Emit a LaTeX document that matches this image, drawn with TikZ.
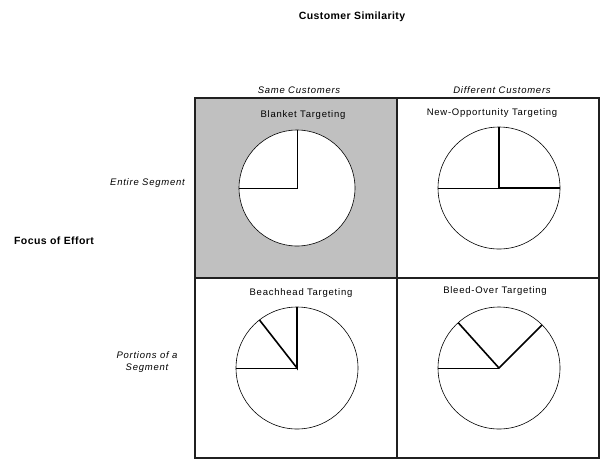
\documentclass[tikz,border=0pt]{standalone}
\usepackage{fontspec}
\setmainfont{Liberation Sans}
\newfontfamily\policeLarge[LetterSpace=8]{Liberation Sans}
\newfontfamily\policeTitre[LetterSpace=4]{Liberation Sans}
\usetikzlibrary{positioning}
\definecolor{grisCase}{HTML}{C0C0C0}
\definecolor{traitCase}{HTML}{202020}
\tikzset{
  %% ── Cases de la matrice ──────────────────────────────────────────────
  caseMatrice/.style = {draw=traitCase, line width=1.1pt, minimum width=202pt,
                        minimum height=180pt, inner sep=0pt, outer sep=0pt},
  caseGrise/.style   = {caseMatrice, fill=grisCase},
  %%
  %% ── Camemberts ───────────────────────────────────────────────────────
  camembert/.style   = {circle, draw=black, line width=0.6pt, fill=white,
                        inner sep=0pt, outer sep=0pt, minimum size=122pt},
  rayon/.style       = {draw=black, line width=0.6pt},
  rayonFort/.style   = {draw=black, line width=1.6pt},
  %%
  %% ── Textes ───────────────────────────────────────────────────────────
  titreCase/.style   = {font=\policeLarge\fontsize{9.5}{11}\selectfont, inner sep=1pt},
  titreAxe/.style    = {font=\policeTitre\fontsize{10.5}{12}\selectfont\bfseries, inner sep=1pt},
  etiquetteAxe/.style= {font=\policeLarge\fontsize{9.5}{12}\selectfont\itshape, inner sep=1pt,
                        align=center},
}
\begin{document}
\begin{tikzpicture}[x=1pt, y=-1pt]
\useasboundingbox (0,0) rectangle (602,459);

%% grille 2 x 2
\node[caseGrise]   (blanket)   at (296,188) {};
\node[caseMatrice] (nouvelle)  at (498,188) {};
\node[caseMatrice] (tete)      at (296,368) {};
\node[caseMatrice] (debord)    at (498,368) {};

%% titres des cases
\node[titreCase] (tBlanket)  at (303,115) {Blanket Targeting};
\node[titreCase] (tNouvelle) at (492,113) {New-Opportunity Targeting};
\node[titreCase] (tTete)     at (301,293) {Beachhead Targeting};
\node[titreCase] (tDebord)   at (495,291) {Bleed-Over Targeting};

%% camemberts
\node[camembert, minimum size=116pt] (pBlanket) at (297,188) {};
\node[camembert] (pNouvelle) at (499,188) {};
\node[camembert] (pTete)     at (297,368) {};
\node[camembert] (pDebord)   at (499,368) {};

\draw[rayon] (pBlanket.90) -- (pBlanket.center) -- (pBlanket.180);

\draw[rayon]     (pNouvelle.center) -- (pNouvelle.180);
\draw[rayonFort] (pNouvelle.90) -- (pNouvelle.center) -- (pNouvelle.0);

\draw[rayon]     (pTete.center) -- (pTete.180);
\draw[rayonFort] (pTete.90) -- (pTete.center) -- (pTete.128);

\draw[rayon]     (pDebord.center) -- (pDebord.180);
\draw[rayonFort] (pDebord.132) -- (pDebord.center) -- (pDebord.45);

%% axes
\node[titreAxe] (similarite) at (352,17) {Customer Similarity};
\node[etiquetteAxe] (memes)  at (299,90) {Same Customers};
\node[etiquetteAxe] (autres) at (502,90) {Different Customers};

\node[titreAxe] (effort) at (54,241) {Focus of Effort};
\node[etiquetteAxe, anchor=east] (entier) at (186,183) {Entire Segment};
\node[etiquetteAxe] (portions) at (147,362) {Portions of a\\Segment};

\end{tikzpicture}
\end{document}
